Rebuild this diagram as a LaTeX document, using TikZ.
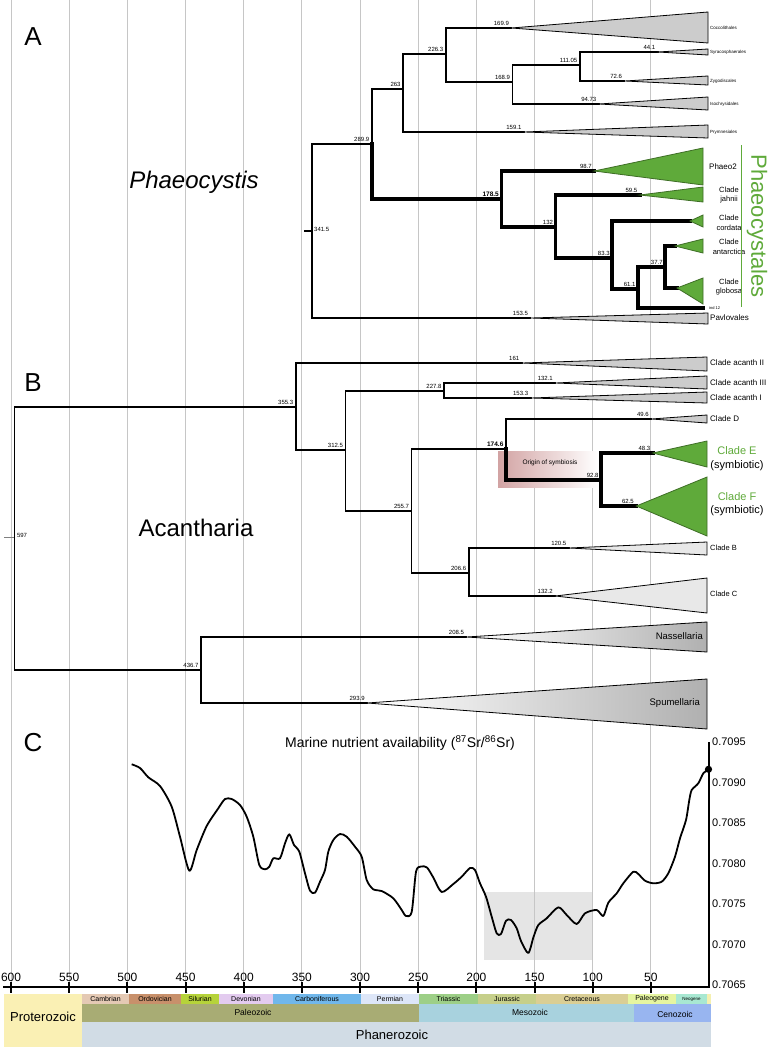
\documentclass[tikz,border=0pt]{standalone}
\usepackage{fontspec}
\setmainfont{Liberation Sans}
\usepackage{tikz}
\usetikzlibrary{arrows.meta, positioning, calc}

\newcommand{\ma}[1]{709-1.1633*#1}

\definecolor{cladegreen}{HTML}{5FAA3A}
\definecolor{symbio}{HTML}{D2A3A3}
\definecolor{cCambrian}{HTML}{E4C9B4}
\definecolor{cOrdovician}{HTML}{C8906B}
\definecolor{cSilurian}{HTML}{B6D33A}
\definecolor{cDevonian}{HTML}{E3CBEF}
\definecolor{cCarbon}{HTML}{70B7EB}
\definecolor{cPermian}{HTML}{DDE6F8}
\definecolor{cTriassic}{HTML}{9DCF87}
\definecolor{cJurassic}{HTML}{C6CF8A}
\definecolor{cCretaceous}{HTML}{DACE94}
\definecolor{cPaleogene}{HTML}{E6F5A0}
\definecolor{cNeogene}{HTML}{A8E8D2}
\definecolor{cQuaternary}{HTML}{F5F0B0}
\definecolor{cPaleozoic}{HTML}{A8AC74}
\definecolor{cMesozoic}{HTML}{A8D2DE}
\definecolor{cCenozoic}{HTML}{98B5F0}
\definecolor{cPhanero}{HTML}{D1DCE5}
\definecolor{cProtero}{HTML}{FAF0B4}

\begin{document}
\begin{tikzpicture}[
    x=1pt, y=-1pt,
    gridline/.style={gray!45, line width=0.7pt},
    branch/.style={line width=1.8pt, line cap=rect},
    thickbranch/.style={line width=3.6pt, line cap=rect},
    cladetri/.style={draw, line width=0.8pt, fill=gray!40},
    greentri/.style={draw=cladegreen!65!black, line width=0.8pt, fill=cladegreen},
    agelabel/.style={font=\fontsize{6}{7}\selectfont, anchor=south east, inner sep=0.8pt, xshift=-1.5pt, yshift=1.5pt},
    tiplabel/.style={font=\fontsize{8}{9.5}\selectfont, anchor=west, inner sep=1pt},
    tinylabel/.style={font=\fontsize{4.5}{5}\selectfont, anchor=west, inner sep=1pt},
    cladelabel/.style={font=\fontsize{7.5}{9.5}\selectfont, align=center, inner sep=0pt},
    symblabel/.style={font=\fontsize{11}{12}\selectfont, inner sep=0pt},
    biglabel/.style={font=\fontsize{24}{26}\selectfont},
    panel/.style={font=\fontsize{26}{28}\selectfont},
    ticklabel/.style={font=\fontsize{12}{13}\selectfont, inner sep=0pt},
    srlabel/.style={font=\fontsize{11}{12}\selectfont, anchor=west, inner sep=0pt},
    axisline/.style={line width=2pt},
    curve/.style={line width=1.8pt, line join=round},
    periodlabel/.style={font=\fontsize{7}{8}\selectfont, inner sep=0pt},
    eralabel/.style={font=\fontsize{8.5}{9}\selectfont, inner sep=0pt},
]
  \useasboundingbox (0,0) rectangle (768,1049);
  \fill[white] (0,0) rectangle (768,1049);

  \fill[gray!20] (484,892) rectangle (592,960);

  \draw[gridline] ({\ma{600}},0) -- ({\ma{600}},987);
  \draw[gridline] ({\ma{550}},0) -- ({\ma{550}},987);
  \draw[gridline] ({\ma{500}},0) -- ({\ma{500}},987);
  \draw[gridline] ({\ma{450}},0) -- ({\ma{450}},987);
  \draw[gridline] ({\ma{400}},0) -- ({\ma{400}},987);
  \draw[gridline] ({\ma{350}},0) -- ({\ma{350}},987);
  \draw[gridline] ({\ma{300}},0) -- ({\ma{300}},987);
  \draw[gridline] ({\ma{250}},0) -- ({\ma{250}},987);
  \draw[gridline] ({\ma{200}},0) -- ({\ma{200}},987);
  \draw[gridline] ({\ma{150}},0) -- ({\ma{150}},987);
  \draw[gridline] ({\ma{100}},0) -- ({\ma{100}},987);
  \draw[gridline] ({\ma{50}},0) -- ({\ma{50}},987);

  \node[panel] (panA) at (33,37) {A};
  \node[panel] (panB) at (33,383) {B};
  \node[panel] (panC) at (33,743) {C};
  \node[biglabel, font=\fontsize{24}{26}\selectfont\itshape] (phaeocystis) at (194,182) {Phaeocystis};
  \node[biglabel] (acantharia) at (196,528) {Acantharia};

  % tree A
  \coordinate (stemA) at (305,231);
  \coordinate (a3415) at ({\ma{341.5}},231);
  \coordinate (a2899) at ({\ma{289.9}},144);
  \coordinate (a263) at ({\ma{263}},89);
  \coordinate (a2263) at ({\ma{226.3}},54);
  \coordinate (a1689) at ({\ma{168.9}},82);
  \coordinate (a11105) at ({\ma{111.05}},65);
  \coordinate (a1785) at ({\ma{178.5}},199);
  \coordinate (a132) at ({\ma{132}},227);
  \coordinate (a833) at ({\ma{83.3}},258);
  \coordinate (a611) at ({\ma{61.1}},289);
  \coordinate (a377) at ({\ma{37.7}},267);
  \coordinate (cocco) at ({\ma{169.9}},28);
  \coordinate (syraco) at ({\ma{44.1}},52);
  \coordinate (zygo) at ({\ma{72.6}},81);
  \coordinate (isochry) at ({\ma{94.73}},104);
  \coordinate (prymn) at ({\ma{159.1}},132);
  \coordinate (phaeo2) at ({\ma{98.7}},171);
  \coordinate (jahnii) at ({\ma{59.5}},195);
  \coordinate (cordata) at (690,221);
  \coordinate (antarc) at (675,246);
  \coordinate (globosa) at (677,288);
  \coordinate (ind12) at (703,308);
  \coordinate (pavlo) at ({\ma{153.5}},318);

  \draw[branch] (stemA) -- (a3415);
  \draw[branch] (a3415) |- (a2899);
  \draw[branch] (a3415) |- (pavlo);
  \draw[branch] (a2899) |- (a263);
  \draw[thickbranch] (a2899) |- (a1785);
  \draw[branch] (a263) |- (a2263);
  \draw[branch] (a263) |- (prymn);
  \draw[branch] (a2263) |- (cocco);
  \draw[branch] (a2263) |- (a1689);
  \draw[branch] (a1689) |- (a11105);
  \draw[branch] (a1689) |- (isochry);
  \draw[branch] (a11105) |- (syraco);
  \draw[branch] (a11105) |- (zygo);
  \draw[thickbranch] (a1785) |- (phaeo2);
  \draw[thickbranch] (a1785) |- (a132);
  \draw[thickbranch] (a132) |- (jahnii);
  \draw[thickbranch] (a132) |- (a833);
  \draw[thickbranch] (a833) |- (cordata);
  \draw[thickbranch] (a833) |- (a611);
  \draw[thickbranch] (a611) |- (a377);
  \draw[thickbranch] (a611) |- (ind12);
  \draw[thickbranch] (a377) |- (antarc);
  \draw[thickbranch] (a377) |- (globosa);

  \draw[cladetri] (cocco) -- (708,12) -- (708,43) -- cycle;
  \draw[cladetri] (syraco) -- (708,49) -- (708,55) -- cycle;
  \draw[cladetri] (zygo) -- (708,76) -- (708,85) -- cycle;
  \draw[cladetri] (isochry) -- (708,97) -- (708,110) -- cycle;
  \draw[cladetri] (prymn) -- (708,125) -- (708,138) -- cycle;
  \draw[greentri] (phaeo2) -- (703,148) -- (703,185) -- cycle;
  \draw[greentri] (jahnii) -- (703,187) -- (703,202) -- cycle;
  \draw[greentri] (cordata) -- (703,215) -- (703,227) -- cycle;
  \draw[greentri] (antarc) -- (703,239) -- (703,253) -- cycle;
  \draw[greentri] (globosa) -- (703,278) -- (703,304) -- cycle;
  \draw[cladetri] (pavlo) -- (708,313) -- (708,324) -- cycle;

  \node[agelabel, anchor=west, xshift=3pt, yshift=0pt] (l3415) at (a3415) {341.5};
  \node[agelabel] (l2899) at (a2899) {289.9};
  \node[agelabel] (l263) at (a263) {263};
  \node[agelabel] (l2263) at (a2263) {226.3};
  \node[agelabel] (l1689) at (a1689) {168.9};
  \node[agelabel] (l11105) at (a11105) {111.05};
  \node[agelabel] (l1699) at (cocco) {169.9};
  \node[agelabel] (l441) at (syraco) {44.1};
  \node[agelabel] (l726) at (zygo) {72.6};
  \node[agelabel] (l9473) at (isochry) {94.73};
  \node[agelabel] (l1591) at (prymn) {159.1};
  \node[agelabel, font=\fontsize{6.5}{7}\selectfont\bfseries] (l1785) at (a1785) {178.5};
  \node[agelabel] (l987) at (phaeo2) {98.7};
  \node[agelabel] (l132) at (a132) {132};
  \node[agelabel] (l595) at (jahnii) {59.5};
  \node[agelabel] (l833) at (a833) {83.3};
  \node[agelabel] (l611) at (a611) {61.1};
  \node[agelabel] (l377) at (a377) {37.7};
  \node[agelabel] (l1535) at (pavlo) {153.5};

  \node[tinylabel] (ncocco) at (709,28) {Coccolithales};
  \node[tinylabel] (nsyraco) at (709,52) {Syracosphaerales};
  \node[tinylabel] (nzygo) at (709,81) {Zygodiscales};
  \node[tinylabel] (nisochry) at (709,104) {Isochrysidales};
  \node[tinylabel] (nprymn) at (709,132) {Prymnesiales};
  \node[tiplabel] (nphaeo2) at (708,167) {Phaeo2};
  \node[cladelabel] (njahnii) at (729,195) {Clade\\jahnii};
  \node[cladelabel] (ncordata) at (729,223) {Clade\\cordata};
  \node[cladelabel] (nantarc) at (729,247) {Clade\\antarctica};
  \node[cladelabel] (nglobosa) at (729,287) {Clade\\globosa};
  \node[tinylabel, font=\fontsize{4}{5}\selectfont] (nind12) at (708,308) {ind 12};
  \node[tiplabel] (npavlo) at (709,318) {Pavlovales};

  \coordinate (phtop) at (741,145);
  \coordinate (phbot) at (741,307);
  \draw[cladegreen, line width=1pt] (phtop) -- (phbot);
  \node[rotate=-90, text=cladegreen, font=\fontsize{22}{24}\selectfont] (phaeocystales) at (757,226) {Phaeocystales};

  % tree B
  \shade[left color=symbio, right color=white] (498,451) rectangle (598,487);
  \node[font=\fontsize{6.5}{7}\selectfont] (origin) at (550,463) {Origin of symbiosis};

  \coordinate (stemB) at (4,537);
  \coordinate (b597) at ({\ma{597}},537);
  \coordinate (b3553) at ({\ma{355.3}},407);
  \coordinate (b3125) at ({\ma{312.5}},450);
  \coordinate (b2278) at ({\ma{227.8}},391);
  \coordinate (b2557) at ({\ma{255.7}},511);
  \coordinate (b1746) at ({\ma{174.6}},449);
  \coordinate (b928) at ({\ma{92.8}},480);
  \coordinate (b2066) at ({\ma{206.6}},573);
  \coordinate (b4367) at ({\ma{436.7}},670);
  \coordinate (acanthII) at ({\ma{161}},363);
  \coordinate (acanthIII) at ({\ma{132.1}},383);
  \coordinate (acanthI) at ({\ma{153.3}},398);
  \coordinate (cladeD) at ({\ma{49.6}},419);
  \coordinate (cladeE) at ({\ma{48.3}},453);
  \coordinate (cladeF) at ({\ma{62.5}},506);
  \coordinate (cladeB) at ({\ma{120.5}},548);
  \coordinate (cladeC) at ({\ma{132.2}},596);
  \coordinate (nassel) at ({\ma{208.5}},637);
  \coordinate (spumel) at ({\ma{293.9}},703);

  \draw[gray, line width=0.7pt] (stemB) -- (b597);
  \draw[branch] (b597) |- (b3553);
  \draw[branch] (b597) |- (b4367);
  \draw[branch] (b3553) |- (acanthII);
  \draw[branch] (b3553) |- (b3125);
  \draw[branch] (b3125) |- (b2278);
  \draw[branch] (b3125) |- (b2557);
  \draw[branch] (b2278) |- (acanthIII);
  \draw[branch] (b2278) |- (acanthI);
  \draw[branch] (b2557) |- (b1746);
  \draw[branch] (b2557) |- (b2066);
  \draw[branch] (b1746) |- (cladeD);
  \draw[thickbranch] (b1746) |- (b928);
  \draw[thickbranch] (b928) |- (cladeE);
  \draw[thickbranch] (b928) |- (cladeF);
  \draw[branch] (b2066) |- (cladeB);
  \draw[branch] (b2066) |- (cladeC);
  \draw[branch] (b4367) |- (nassel);
  \draw[branch] (b4367) |- (spumel);

  \draw[cladetri] (acanthII) -- (707,357) -- (707,371) -- cycle;
  \draw[cladetri] (acanthIII) -- (707,376) -- (707,389) -- cycle;
  \draw[cladetri] (acanthI) -- (707,392) -- (707,403) -- cycle;
  \draw[cladetri] (cladeD) -- (707,415) -- (707,423) -- cycle;
  \draw[greentri] (cladeE) -- (707,441) -- (707,467) -- cycle;
  \draw[greentri] (cladeF) -- (707,477) -- (707,536) -- cycle;
  \draw[cladetri, fill=gray!18] (cladeB) -- (707,542) -- (707,555) -- cycle;
  \draw[cladetri, fill=gray!18] (cladeC) -- (707,578) -- (707,613) -- cycle;
  \shade[left color=white, right color=gray!62] (nassel) -- (707,622) -- (707,652) -- cycle;
  \draw[line width=0.8pt] (nassel) -- (707,622) -- (707,652) -- cycle;
  \shade[left color=white, right color=gray!62] (spumel) -- (707,679) -- (707,729) -- cycle;
  \draw[line width=0.8pt] (spumel) -- (707,679) -- (707,729) -- cycle;

  \node[agelabel, anchor=west, xshift=3pt, yshift=0pt] (l597) at (b597) {597};
  \node[agelabel] (l3553) at (b3553) {355.3};
  \node[agelabel] (l3125) at (b3125) {312.5};
  \node[agelabel] (l2278) at (b2278) {227.8};
  \node[agelabel] (l2557) at (b2557) {255.7};
  \node[agelabel, font=\fontsize{6.5}{7}\selectfont\bfseries] (l1746) at (b1746) {174.6};
  \node[agelabel] (l928) at (b928) {92.8};
  \node[agelabel] (l2066) at (b2066) {206.6};
  \node[agelabel] (l4367) at (b4367) {436.7};
  \node[agelabel] (l161) at (acanthII) {161};
  \node[agelabel] (l1321) at (acanthIII) {132.1};
  \node[agelabel] (l1533) at (acanthI) {153.3};
  \node[agelabel] (l496) at (cladeD) {49.6};
  \node[agelabel] (l483) at (cladeE) {48.3};
  \node[agelabel] (l625) at (cladeF) {62.5};
  \node[agelabel] (l1205) at (cladeB) {120.5};
  \node[agelabel] (l1322) at (cladeC) {132.2};
  \node[agelabel] (l2085) at (nassel) {208.5};
  \node[agelabel] (l2939) at (spumel) {293.9};

  \node[tiplabel] (nacanthII) at (709,363) {Clade acanth II};
  \node[tiplabel] (nacanthIII) at (709,383) {Clade acanth III};
  \node[tiplabel] (nacanthI) at (709,398) {Clade acanth I};
  \node[tiplabel] (ncladeD) at (709,419) {Clade D};
  \node[symblabel, text=cladegreen] (ncladeE) at (737,451) {Clade E};
  \node[symblabel] (ncladeEs) at (737,466) {(symbiotic)};
  \node[symblabel, text=cladegreen] (ncladeF) at (737,497) {Clade F};
  \node[symblabel] (ncladeFs) at (737,511) {(symbiotic)};
  \node[tiplabel, font=\fontsize{7.5}{9}\selectfont] (ncladeB) at (709,548) {Clade B};
  \node[tiplabel, font=\fontsize{7.5}{9}\selectfont] (ncladeC) at (709,594) {Clade C};
  \node[tiplabel, font=\fontsize{9.5}{11}\selectfont, anchor=east] (nnassel) at (704,636) {Nassellaria};
  \node[tiplabel, font=\fontsize{9.5}{11}\selectfont, anchor=east] (nspumel) at (701,703) {Spumellaria};

  % panel C
  \node[font=\fontsize{14}{15}\selectfont] (srtitle) at (400,743) {Marine nutrient availability (\textsuperscript{87}Sr/\textsuperscript{86}Sr)};
  \draw[curve] plot[smooth, tension=0.45] coordinates {(131.7,764.3) (140,768) (148.3,777.3) (160,786) (171.7,806.7) (180,836.7) (189.3,870.7) (196.7,850) (206.7,826) (218.3,808.3) (225,799) (231.7,799) (240,805) (246.7,816.7) (253.3,836.7) (259.3,865) (265,869.3) (269.3,866.7) (273.3,858.3) (280,858.3) (285,843.3) (289.3,834.3) (294,845) (299.3,851.7) (305,873.3) (310,890.7) (315,892.7) (320,881.7) (325,870) (328.3,851.7) (333.3,840) (340,834) (346.7,836.7) (355,846.7) (361.7,856.7) (366.7,880) (373.3,889.3) (381.7,891) (393.3,898.3) (401.7,910) (406,916) (411.7,912) (416,871.7) (421,866.5) (427,867.5) (433.3,877.5) (441.7,892) (453.3,884) (461.7,876.7) (470,868) (475,870) (480,883.3) (486,896.7) (491.7,916.7) (496.7,933.3) (501,934) (506,920.7) (511,920) (516.7,928.3) (521,941) (528.3,953) (533.5,937) (538.3,925) (546.7,918.3) (558.3,907.3) (566.7,915) (576.7,924) (585,913.3) (596.7,910) (603.3,916) (608.3,902.7) (616.7,893.3) (623.3,883.3) (633.3,871.7) (638.3,874) (645,880.7) (653.3,883.3) (661.7,881.7) (668.3,873.3) (675,856.7) (680,838.3) (686,820) (689.3,800) (691.7,790) (698.3,783.3) (703.3,773.3) (708.3,769.3)};
  \coordinate (srnow) at (708.5,769.3);
  \fill (srnow) circle (3.6pt);

  \coordinate (axtop) at (709,742);
  \coordinate (axcorner) at (709,987);
  \coordinate (axleft) at (3,987);
  \draw[axisline] (axtop) -- (axcorner) -- (axleft);
  \node[srlabel] (sr9095) at (712,742) {0.7095};
  \node[srlabel] (sr9090) at (712,782.5) {0.7090};
  \node[srlabel] (sr9085) at (712,823) {0.7085};
  \node[srlabel] (sr9080) at (712,863.5) {0.7080};
  \node[srlabel] (sr9075) at (712,904) {0.7075};
  \node[srlabel] (sr9070) at (712,944.5) {0.7070};
  \node[srlabel] (sr9065) at (712,985) {0.7065};

  \draw[axisline] ({\ma{600}},982) -- ++(0,11);
  \draw[axisline] ({\ma{550}},982) -- ++(0,11);
  \draw[axisline] ({\ma{500}},982) -- ++(0,11);
  \draw[axisline] ({\ma{450}},982) -- ++(0,11);
  \draw[axisline] ({\ma{400}},982) -- ++(0,11);
  \draw[axisline] ({\ma{350}},982) -- ++(0,11);
  \draw[axisline] ({\ma{300}},982) -- ++(0,11);
  \draw[axisline] ({\ma{250}},982) -- ++(0,11);
  \draw[axisline] ({\ma{200}},982) -- ++(0,11);
  \draw[axisline] ({\ma{150}},982) -- ++(0,11);
  \draw[axisline] ({\ma{100}},982) -- ++(0,11);
  \draw[axisline] ({\ma{50}},982) -- ++(0,11);
  \node[ticklabel] (x600) at ({\ma{600}},977) {600};
  \node[ticklabel] (x550) at ({\ma{550}},977) {550};
  \node[ticklabel] (x500) at ({\ma{500}},977) {500};
  \node[ticklabel] (x450) at ({\ma{450}},977) {450};
  \node[ticklabel] (x400) at ({\ma{400}},977) {400};
  \node[ticklabel] (x350) at ({\ma{350}},977) {350};
  \node[ticklabel] (x300) at ({\ma{300}},977) {300};
  \node[ticklabel] (x250) at ({\ma{250}},977) {250};
  \node[ticklabel] (x200) at ({\ma{200}},977) {200};
  \node[ticklabel] (x150) at ({\ma{150}},977) {150};
  \node[ticklabel] (x100) at ({\ma{100}},977) {100};
  \node[ticklabel] (x50) at ({\ma{50}},977) {50};

  % geologic time scale
  \fill[cProtero] (4,994) rectangle (82,1047);
  \fill[cCambrian] (82,994) rectangle (129,1004);
  \fill[cOrdovician] (129,994) rectangle (181,1004);
  \fill[cSilurian] (181,994) rectangle (219,1004);
  \fill[cDevonian] (219,994) rectangle (273,1004);
  \fill[cCarbon] (273,994) rectangle (361,1004);
  \fill[cPermian] (361,994) rectangle (419,1004);
  \fill[cTriassic] (419,994) rectangle (478,1004);
  \fill[cJurassic] (478,994) rectangle (536,1004);
  \fill[cCretaceous] (536,994) rectangle (628,1004);
  \fill[cPaleogene] (628,994) rectangle (676,1004);
  \fill[cNeogene] (676,994) rectangle (707,1004);
  \fill[cQuaternary] (707,994) rectangle (711,1004);
  \fill[cPaleozoic] (82,1004) rectangle (419,1022);
  \fill[cMesozoic] (419,1004) rectangle (634,1022);
  \fill[cCenozoic] (634,1004) rectangle (711,1022);
  \fill[cPhanero] (82,1022) rectangle (711,1047);

  \node[periodlabel] (tcam) at (105.5,999) {Cambrian};
  \node[periodlabel] (tord) at (155,999) {Ordovician};
  \node[periodlabel] (tsil) at (200,999) {Silurian};
  \node[periodlabel] (tdev) at (246,999) {Devonian};
  \node[periodlabel] (tcarb) at (317,999) {Carboniferous};
  \node[periodlabel] (tperm) at (390,999) {Permian};
  \node[periodlabel] (ttri) at (448.5,999) {Triassic};
  \node[periodlabel] (tjur) at (507,999) {Jurassic};
  \node[periodlabel] (tcret) at (582,999) {Cretaceous};
  \node[periodlabel] (tpal) at (652,999) {Paleogene};
  \node[periodlabel, font=\fontsize{4.5}{5}\selectfont] (tneo) at (691.5,999) {Neogene};
  \node[eralabel] (tpaleoz) at (253,1012) {Paleozoic};
  \node[eralabel] (tmesoz) at (530,1012) {Mesozoic};
  \node[eralabel] (tcenoz) at (675,1014) {Cenozoic};
  \node[font=\fontsize{13}{14}\selectfont] (tphan) at (392,1035) {Phanerozoic};
  \node[font=\fontsize{13}{14}\selectfont] (tprot) at (43,1017) {Proterozoic};
\end{tikzpicture}
\end{document}
